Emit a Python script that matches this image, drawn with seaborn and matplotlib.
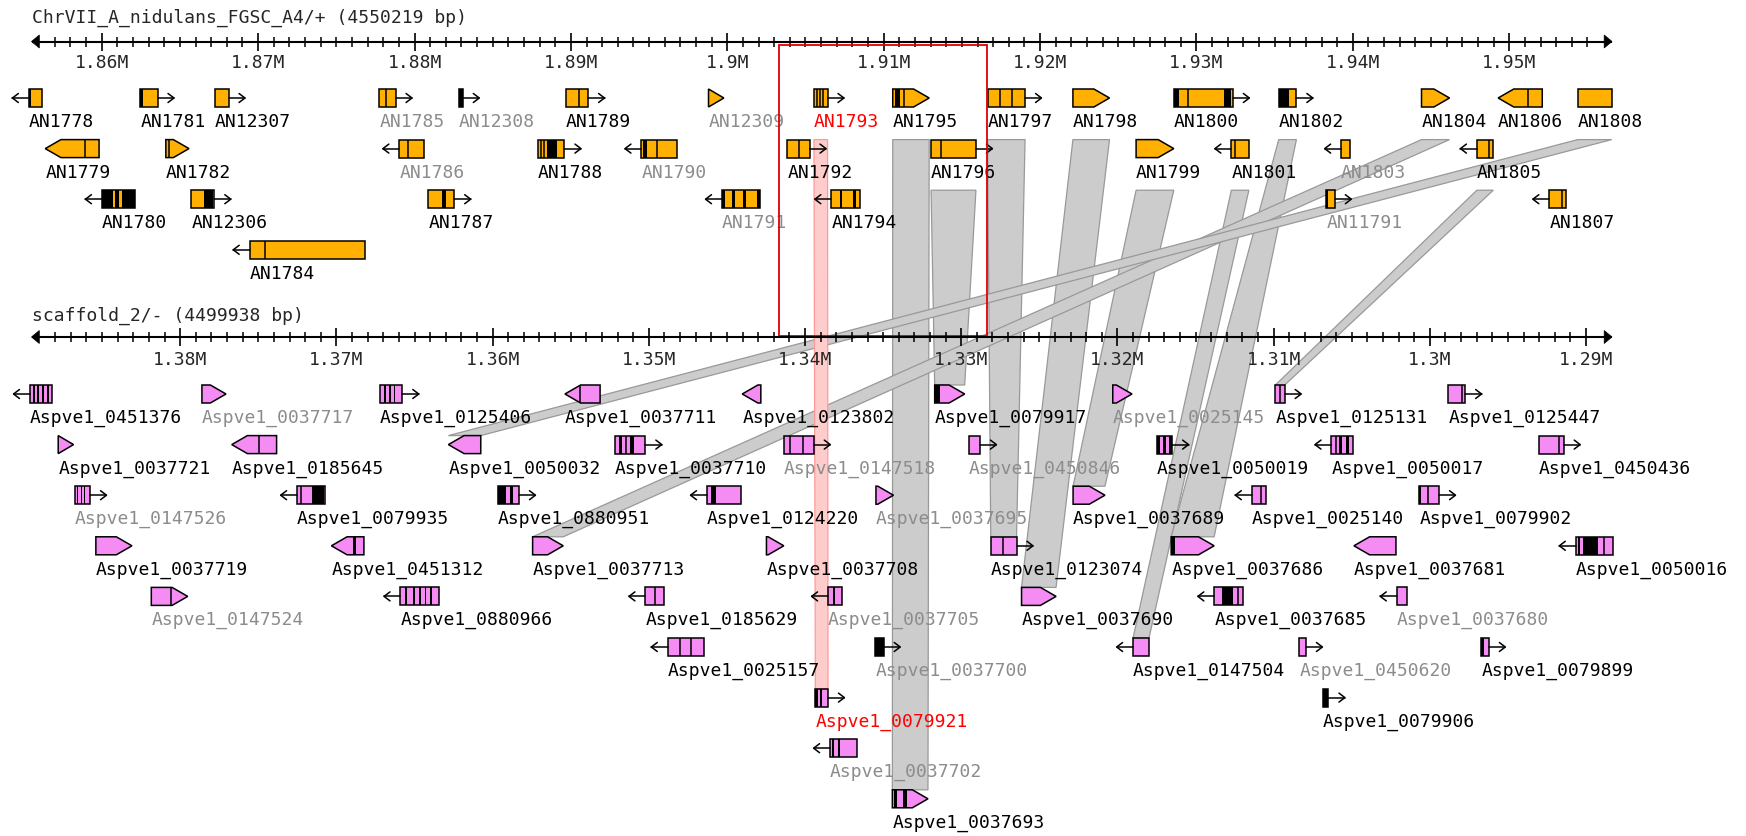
import numpy as np
import pandas as pd
import matplotlib
matplotlib.use("Agg")
import matplotlib.pyplot as plt
from matplotlib.patches import Polygon, Rectangle
import seaborn as sns

# ---------------- data (gene positions in kb) ----------------
TOP_TITLE = "ChrVII_A_nidulans_FGSC_A4/+ (4550219 bp)"
BOT_TITLE = "scaffold_2/- (4499938 bp)"
TOP_RANGE = [1855.51, 1956.57]
BOT_RANGE = [1389.52, 1288.34]      # minus strand: drawn high -> low
HIGHLIGHT = [1903.3, 1916.6]

# top track (A. nidulans); left/right = start/end as drawn on screen
TOP_NAME = ["AN1778", "AN1781", "AN12307", "AN1785", "AN12308", "AN1789", "AN12309", "AN1793",
            "AN1795", "AN1797", "AN1798", "AN1800", "AN1802", "AN1804", "AN1806", "AN1808",
            "AN1779", "AN1782", "AN1786", "AN1788", "AN1790", "AN1792", "AN1796", "AN1799",
            "AN1801", "AN1803", "AN1805",
            "AN1780", "AN12306", "AN1787", "AN1791", "AN1794", "AN11791", "AN1807",
            "AN1784"]
TOP_LEFT = [1855.34, 1862.46, 1867.24, 1877.76, 1882.85, 1889.69, 1898.80, 1905.54,
            1910.58, 1916.64, 1922.10, 1928.57, 1935.26, 1944.39, 1949.29, 1954.38,
            1856.39, 1864.10, 1879.03, 1887.87, 1894.51, 1903.83, 1913.03, 1926.14,
            1932.23, 1939.25, 1947.93,
            1860.01, 1865.72, 1880.88, 1899.66, 1906.65, 1938.30, 1952.56,
            1869.46]
TOP_RIGHT = [1856.20, 1863.57, 1868.11, 1878.79, 1883.09, 1891.10, 1899.78, 1906.41,
             1912.91, 1919.04, 1924.44, 1932.33, 1936.39, 1946.18, 1952.11, 1956.55,
             1859.83, 1865.58, 1880.58, 1889.59, 1896.76, 1905.26, 1915.90, 1928.55,
             1933.35, 1939.80, 1948.98,
             1862.14, 1867.20, 1882.54, 1902.12, 1908.49, 1938.85, 1953.64,
             1876.82]
TOP_ROW = [0] * 16 + [1] * 11 + [2] * 7 + [3]
TOP_KIND = ["box<", "box>", "box>", "box>", "box>", "box>", "pent>", "box>",
            "pent>", "box>", "pent>", "box>", "box>", "pent>", "pent<", "box",
            "pent<", "pent>", "box<", "box>", "box<", "box>", "box>", "pent>",
            "box<", "box<", "box<",
            "box<", "box>", "box>", "box<", "box<", "box>", "box<",
            "box<"]
TOP_TONE = list("kkkggkgrkkkkkkkk") + list("kkgkgkkkkgk") + list("kkkgkgk") + ["k"]
TOP_BLACK = {
    "AN1778": [(1855.38, 1855.48)], "AN1781": [(1862.46, 1862.63)], "AN12308": [(1882.85, 1883.09)],
    "AN1795": [(1910.70, 1911.07)], "AN1800": [(1928.57, 1928.90), (1931.73, 1932.21)],
    "AN1802": [(1935.26, 1935.91)], "AN1788": [(1888.48, 1889.10)], "AN1790": [(1894.63, 1894.88)],
    "AN1780": [(1860.01, 1860.74), (1860.87, 1861.11), (1861.31, 1862.14)],
    "AN12306": [(1866.51, 1867.12)], "AN1787": [(1881.73, 1882.03)],
    "AN1791": [(1899.66, 1899.85), (1900.30, 1900.50), (1901.00, 1901.20), (1901.90, 1902.12)],
    "AN1794": [(1907.20, 1907.35), (1908.05, 1908.20)], "AN11791": [(1938.30, 1938.40)],
}
TOP_DIV = {
    "AN1785": [1878.18], "AN1789": [1890.52], "AN1793": [1905.72, 1905.91, 1906.11],
    "AN1795": [1911.32], "AN1797": [1917.45, 1918.18], "AN1800": [1929.46], "AN1806": [1951.20],
    "AN1779": [1858.95], "AN1782": [1864.30], "AN1786": [1879.60], "AN1788": [1888.12, 1888.31],
    "AN1790": [1895.49], "AN1792": [1904.57], "AN1796": [1913.64], "AN1801": [1932.44],
    "AN1805": [1948.69], "AN1807": [1953.35], "AN1784": [1870.44],
}

# bottom track (A. versicolor scaffold)
BOT_NAME = ["Aspve1_0451376", "Aspve1_0037717", "Aspve1_0125406", "Aspve1_0037711", "Aspve1_0123802",
            "Aspve1_0079917", "Aspve1_0025145", "Aspve1_0125131", "Aspve1_0125447",
            "Aspve1_0037721", "Aspve1_0185645", "Aspve1_0050032", "Aspve1_0037710", "Aspve1_0147518",
            "Aspve1_0450846", "Aspve1_0050019", "Aspve1_0050017", "Aspve1_0450436",
            "Aspve1_0147526", "Aspve1_0079935", "Aspve1_0880951", "Aspve1_0124220", "Aspve1_0037695",
            "Aspve1_0037689", "Aspve1_0025140", "Aspve1_0079902",
            "Aspve1_0037719", "Aspve1_0451312", "Aspve1_0037713", "Aspve1_0037708", "Aspve1_0123074",
            "Aspve1_0037686", "Aspve1_0037681", "Aspve1_0050016",
            "Aspve1_0147524", "Aspve1_0880966", "Aspve1_0185629", "Aspve1_0037705", "Aspve1_0037690",
            "Aspve1_0037685", "Aspve1_0037680",
            "Aspve1_0025157", "Aspve1_0037700", "Aspve1_0147504", "Aspve1_0450620", "Aspve1_0079899",
            "Aspve1_0079921", "Aspve1_0079906",
            "Aspve1_0037702",
            "Aspve1_0037693"]
BOT_LEFT = [1389.62, 1378.61, 1367.21, 1355.37, 1344.02, 1331.70, 1320.30, 1309.89, 1298.81,
            1387.81, 1376.70, 1362.83, 1352.19, 1341.36, 1329.53, 1317.46, 1306.30, 1293.01,
            1386.75, 1372.52, 1359.65, 1346.28, 1335.46, 1322.84, 1311.40, 1300.68,
            1385.40, 1370.32, 1357.44, 1342.47, 1328.11, 1316.56, 1304.86, 1290.66,
            1381.85, 1365.90, 1350.22, 1338.53, 1326.14, 1313.80, 1302.12,
            1348.79, 1335.49, 1319.00, 1308.36, 1296.70,
            1339.34, 1306.84,
            1338.40,
            1334.41]
BOT_RIGHT = [1388.23, 1377.07, 1365.78, 1353.12, 1342.83, 1329.78, 1319.07, 1309.29, 1297.74,
             1386.83, 1373.83, 1360.76, 1350.22, 1339.44, 1328.80, 1316.50, 1304.92, 1291.43,
             1385.77, 1370.73, 1358.31, 1344.11, 1334.34, 1320.80, 1310.51, 1299.41,
             1383.09, 1368.24, 1355.48, 1341.36, 1326.46, 1313.81, 1302.17, 1288.28,
             1379.52, 1363.45, 1349.04, 1337.66, 1323.93, 1311.95, 1301.45,
             1346.48, 1334.96, 1317.98, 1307.93, 1296.22,
             1338.53, 1306.49,
             1336.67,
             1332.13]
BOT_ROW = [0] * 9 + [1] * 9 + [2] * 8 + [3] * 8 + [4] * 7 + [5] * 5 + [6] * 2 + [7] + [8]
BOT_KIND = ["box<", "pent>", "box>", "pent<", "pent<", "pent>", "pent>", "box>", "box>",
            "pent>", "pent<", "pent<", "box>", "box>", "box>", "box>", "box<", "box>",
            "box>", "box<", "box>", "box<", "pent>", "pent>", "box<", "box>",
            "pent>", "pent<", "pent>", "pent>", "box>", "pent>", "pent<", "box<",
            "pent>", "box<", "box<", "box<", "pent>", "box<", "box<",
            "box<", "box>", "box<", "box>", "box>",
            "box>", "box>",
            "box<",
            "pent>"]
BOT_TONE = (list("kgkkkkgkk") + list("kkkkggkkk") + list("gkkkgkkk") + list("kkkkkkkk")
            + list("gkkgkkg") + list("kgkgk") + list("rk") + ["g"] + ["k"])
BOT_BLACK = {
    "Aspve1_0451376": [(1389.44, 1389.32), (1389.15, 1389.03), (1388.85, 1388.73), (1388.53, 1388.41)],
    "Aspve1_0125406": [(1366.95, 1366.83), (1366.63, 1366.51), (1366.34, 1366.22)],
    "Aspve1_0079917": [(1331.70, 1331.38)],
    "Aspve1_0037710": [(1351.94, 1351.70), (1351.20, 1350.96)],
    "Aspve1_0050019": [(1317.46, 1317.26), (1317.07, 1316.88), (1316.69, 1316.50)],
    "Aspve1_0050017": [(1305.81, 1305.65), (1305.40, 1305.17)],
    "Aspve1_0147526": [(1386.60, 1386.52), (1386.38, 1386.30), (1386.18, 1386.10)],
    "Aspve1_0079935": [(1371.54, 1370.81)],
    "Aspve1_0880951": [(1359.65, 1359.16), (1358.91, 1358.72)],
    "Aspve1_0124220": [(1346.03, 1345.67)],
    "Aspve1_0079902": [(1300.68, 1300.56)],
    "Aspve1_0451312": [(1368.97, 1368.73)],
    "Aspve1_0037686": [(1316.56, 1316.31)],
    "Aspve1_0050016": [(1290.50, 1290.40), (1290.18, 1289.22)],
    "Aspve1_0880966": [(1365.59, 1365.47), (1365.10, 1364.98), (1364.73, 1364.61),
                       (1364.36, 1364.24), (1363.99, 1363.87)],
    "Aspve1_0037705": [(1338.22, 1338.10)],
    "Aspve1_0037685": [(1313.32, 1312.60)],
    "Aspve1_0037700": [(1335.49, 1334.96)],
    "Aspve1_0079899": [(1296.70, 1296.53)],
    "Aspve1_0079921": [(1339.34, 1339.19), (1339.02, 1338.89)],
    "Aspve1_0079906": [(1306.84, 1306.49)],
    "Aspve1_0037702": [(1338.28, 1338.16), (1337.90, 1337.79)],
    "Aspve1_0037693": [(1334.33, 1334.09), (1333.73, 1333.48)],
}
BOT_DIV = {
    "Aspve1_0037711": [1354.41], "Aspve1_0125131": [1309.60], "Aspve1_0125447": [1297.97],
    "Aspve1_0185645": [1374.98], "Aspve1_0037710": [1351.45], "Aspve1_0147518": [1340.99, 1340.13],
    "Aspve1_0050017": [1306.01], "Aspve1_0450436": [1291.74], "Aspve1_0079935": [1372.28],
    "Aspve1_0025140": [1310.80], "Aspve1_0079902": [1300.13], "Aspve1_0123074": [1327.32],
    "Aspve1_0050016": [1288.86], "Aspve1_0147524": [1380.62], "Aspve1_0185629": [1349.60],
    "Aspve1_0037685": [1312.30], "Aspve1_0025157": [1347.99, 1347.27],
}

# syntenic pairs (top gene -> bottom gene)
LINK_TOP = ["AN1795", "AN1796", "AN1797", "AN1798", "AN1799", "AN1801", "AN1802",
            "AN1804", "AN1805", "AN1808"]
LINK_BOT = ["Aspve1_0037693", "Aspve1_0079917", "Aspve1_0123074", "Aspve1_0037690",
            "Aspve1_0037689", "Aspve1_0147504", "Aspve1_0037686", "Aspve1_0037713",
            "Aspve1_0125131", "Aspve1_0050032"]
FOCUS_PAIR = ["AN1793", "Aspve1_0079921"]

# ---------------- layout / style ----------------
W, H = 1746, 837
AX_L, AX_R = 31.5, 1612.0
TOP_AXIS_Y, BOT_AXIS_Y = 42.5, 338.0
TOP_TITLE_Y, BOT_TITLE_Y = 18.0, 316.0
TOP_TICK_Y, BOT_TICK_Y = 63.0, 360.0
TOP_ROW0, BOT_ROW0, STEP = 99.0, 395.0, 50.6
BH = 18.0
LAB_DY = 23.0
TIP, ARROW, CHEV = 1.0, 1.05, 0.38
FS = 13
ORANGE, PINK = "#ffb000", "#f48cf3"
TONES = {"k": "black", "g": "#8c8c8c", "r": "#ff0000"}

sns.set_theme(style="white")
plt.rcParams["font.family"] = ["DejaVu Sans Mono", "DejaVu Sans"]

fig = plt.figure(figsize=(W / 100, H / 100), dpi=100)
fig.patch.set_facecolor("white")

ax_link = fig.add_axes([0, 0, 1, 1], zorder=0)
ax_link.set_xlim(0, W)
ax_link.set_ylim(H, 0)
ax_link.axis("off")


def make_track():
    ax = fig.add_axes([AX_L / W, 0, (AX_R - AX_L) / W, 1], zorder=1)
    ax.axis("off")
    return ax


def draw_ruler(ax, rng, y, lab_y, title, title_y):
    lo, hi = min(rng), max(rng)
    d = 1 if rng[1] > rng[0] else -1
    ax.plot(rng, [y, y], color="black", lw=1.5, solid_capstyle="butt", zorder=3, clip_on=False)
    for end, s in ((rng[0], 1), (rng[1], -1)):
        ax.add_patch(Polygon([(end, y), (end + s * d * 0.5, y - 6.5), (end + s * d * 0.5, y + 6.5)],
                             closed=True, facecolor="black", edgecolor="black", lw=0.5,
                             zorder=3, clip_on=False))
    kb = np.arange(np.ceil(lo), np.floor(hi) + 1)
    kb = kb[(kb - lo > 0.7) & (hi - kb > 0.7)]
    ticks = pd.DataFrame({"kb": kb, "y": y, "major": kb % 10 == 0})
    sns.scatterplot(data=ticks[~ticks["major"]], x="kb", y="y", marker="|", s=52,
                    color="black", linewidth=1.1, ax=ax, legend=False, zorder=3)
    sns.scatterplot(data=ticks[ticks["major"]], x="kb", y="y", marker="|", s=170,
                    color="black", linewidth=1.2, ax=ax, legend=False, zorder=3)
    for v in ticks.loc[ticks["major"], "kb"]:
        ax.text(v, lab_y, f"{v / 1000:g}M", ha="center", va="center", fontsize=FS)
    ax.text(rng[0], title_y, title, ha="left", va="center", fontsize=FS)


def draw_gene(ax, name, a, b, yc, kind, tone, fill, blacks, divs):
    d = 1 if b > a else -1
    yt, yb = yc - BH / 2, yc + BH / 2
    lo, hi = min(a, b), max(a, b)
    if kind.startswith("pent"):
        tip = min(TIP, hi - lo)
        if kind.endswith(">"):
            base = b - d * tip
            pts = [(a, yt), (base, yt), (b, yc), (base, yb), (a, yb)]
        else:
            base = a + d * tip
            pts = [(b, yt), (base, yt), (a, yc), (base, yb), (b, yb)]
    else:
        pts = [(a, yt), (b, yt), (b, yb), (a, yb)]
    ax.add_patch(Polygon(pts, closed=True, facecolor=fill, edgecolor="none", zorder=2,
                         clip_on=False))
    for p, q in blacks:
        ax.add_patch(Rectangle((min(p, q), yt), abs(q - p), BH, facecolor="black",
                               edgecolor="none", zorder=3, clip_on=False))
    if divs:
        ax.vlines(divs, yt, yb, color="black", lw=1.1, zorder=3, clip_on=False)
    ax.add_patch(Polygon(pts, closed=True, facecolor="none", edgecolor="black", lw=1.1,
                         zorder=4, clip_on=False))
    if kind in ("box>", "box<"):
        s, e = (b, b + d * ARROW) if kind == "box>" else (a, a - d * ARROW)
        back = e - np.sign(e - s) * CHEV
        ax.plot([s, e], [yc, yc], color="black", lw=1.1, zorder=4, clip_on=False)
        ax.plot([back, e, back], [yc - 4.5, yc, yc + 4.5], color="black", lw=1.1,
                zorder=4, clip_on=False)
    ax.text(a, yc + LAB_DY, name, ha="left", va="center", fontsize=FS,
            color=TONES[tone], zorder=5)


ax_top = make_track()
ax_bot = make_track()

draw_ruler(ax_top, TOP_RANGE, TOP_AXIS_Y, TOP_TICK_Y, TOP_TITLE, TOP_TITLE_Y)
draw_ruler(ax_bot, BOT_RANGE, BOT_AXIS_Y, BOT_TICK_Y, BOT_TITLE, BOT_TITLE_Y)

top_pos = {}
for i, n in enumerate(TOP_NAME):
    yc = TOP_ROW0 + TOP_ROW[i] * STEP
    draw_gene(ax_top, n, TOP_LEFT[i], TOP_RIGHT[i], yc, TOP_KIND[i], TOP_TONE[i], ORANGE,
              TOP_BLACK.get(n, []), TOP_DIV.get(n, []))
    top_pos[n] = (TOP_LEFT[i], TOP_RIGHT[i], TOP_ROW[i])

bot_pos = {}
for i, n in enumerate(BOT_NAME):
    yc = BOT_ROW0 + BOT_ROW[i] * STEP
    draw_gene(ax_bot, n, BOT_LEFT[i], BOT_RIGHT[i], yc, BOT_KIND[i], BOT_TONE[i], PINK,
              BOT_BLACK.get(n, []), BOT_DIV.get(n, []))
    bot_pos[n] = (BOT_LEFT[i], BOT_RIGHT[i], BOT_ROW[i])

# region box on the reference genome
ax_top.add_patch(Rectangle((HIGHLIGHT[0], TOP_AXIS_Y + 3.5), HIGHLIGHT[1] - HIGHLIGHT[0],
                           BOT_AXIS_Y - TOP_AXIS_Y - 5, fill=False, edgecolor="#dd0000",
                           lw=1.3, zorder=10, clip_on=False))

for ax, rng in ((ax_top, TOP_RANGE), (ax_bot, BOT_RANGE)):
    ax.set_xlim(*rng)
    ax.set_ylim(H, 0)


def draw_link(tn, bn, fc, ec):
    ta, tb, tr = top_pos[tn]
    ba, bb, br = bot_pos[bn]
    yt = TOP_ROW0 + (tr + 1) * STEP - BH / 2
    yb = BOT_ROW0 + br * STEP - BH / 2
    p1 = ax_top.transData.transform([(ta, yt), (tb, yt)])
    p2 = ax_bot.transData.transform([(bb, yb), (ba, yb)])
    pts = ax_link.transData.inverted().transform(np.vstack([p1, p2]))
    ax_link.add_patch(Polygon(pts, closed=True, facecolor=fc, edgecolor=ec, lw=0.9))


for tn, bn in zip(LINK_TOP, LINK_BOT):
    draw_link(tn, bn, "#cccccc", "#999999")
draw_link(FOCUS_PAIR[0], FOCUS_PAIR[1], "#ffcccc", "#ff9999")

fig.savefig("out.png", dpi=100)
